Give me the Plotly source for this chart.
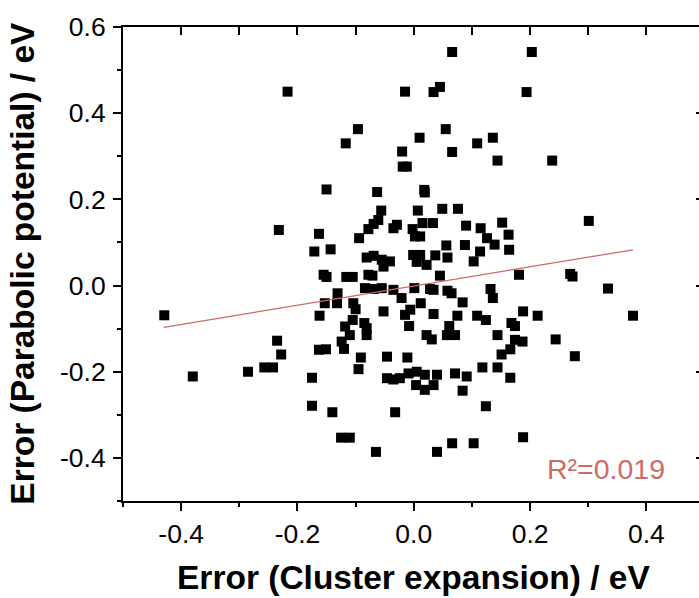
import plotly.graph_objects as go

# Scatter data: (error cluster expansion, error parabolic potential)
err_ce = [
    0.066, 0.203, -0.217, -0.015, 0.034, 0.045, 0.194, -0.096, -0.117, 0.010,
    0.055, 0.109, 0.136, -0.020, 0.066, -0.019, -0.012, 0.144, 0.238, -0.150,
    -0.063, 0.018, 0.019,
    -0.056, 0.007, 0.049, 0.076, -0.232, 0.301, -0.163, -0.094, -0.061, -0.069,
    -0.078, -0.035, -0.029, -0.002, 0.002, 0.011, 0.015, 0.033, 0.090, 0.115,
    0.126, 0.139, 0.152, 0.163,
    -0.171, -0.143, 0.164, 0.056, 0.088, 0.114, 0.103, -0.081, -0.069, -0.055,
    -0.041, -0.052, -0.001, 0.011, 0.005, 0.022, 0.037, 0.058,
    -0.155, -0.150, -0.116, -0.105, -0.078, -0.071, 0.045, 0.181, 0.269, 0.273,
    -0.429, -0.131, -0.153, -0.132, -0.162, -0.104, -0.100, -0.084, -0.069, -0.055,
    -0.035, -0.021, 0.001, 0.012, -0.052, -0.015, -0.006, -0.008, -0.105, -0.118,
    -0.085, -0.081, 0.028, 0.034, 0.058, 0.065, 0.084, 0.132, 0.136, 0.188,
    0.213, 0.334, 0.377, 0.034, 0.075, 0.061, 0.109, 0.124, 0.168, 0.174,
    -0.110, -0.081, -0.124, -0.120, -0.163, -0.151, -0.235, -0.228, -0.091, -0.095,
    -0.046, -0.011, -0.257, -0.242, -0.285, 0.057, 0.071, 0.022, 0.031, 0.144,
    0.174, 0.187, 0.166, 0.151, 0.244, 0.277, 0.118, 0.144,
    -0.380, -0.175, -0.175, -0.140, -0.125, -0.110, -0.065, -0.032, -0.046, -0.035,
    -0.024, -0.009, 0.005, 0.004, 0.019, 0.019, 0.034, 0.040, 0.071, 0.091,
    0.084, 0.166, 0.124, 0.188, 0.040, 0.066, 0.103,
]
err_pp = [
    0.542, 0.542, 0.450, 0.450, 0.449, 0.461, 0.449, 0.363, 0.330, 0.343,
    0.363, 0.330, 0.343, 0.311, 0.310, 0.276, 0.276, 0.290, 0.290, 0.223,
    0.217, 0.222, 0.216,
    0.174, 0.174, 0.178, 0.178, 0.129, 0.150, 0.120, 0.110, 0.152, 0.143,
    0.131, 0.133, 0.141, 0.131, 0.114, 0.114, 0.145, 0.145, 0.139, 0.133,
    0.110, 0.095, 0.146, 0.118,
    0.079, 0.084, 0.083, 0.093, 0.094, 0.079, 0.056, 0.065, 0.069, 0.060,
    0.056, 0.044, 0.071, 0.071, 0.055, 0.048, 0.070, 0.065,
    0.025, 0.020, 0.020, 0.020, 0.025, 0.023, 0.023, 0.025, 0.027, 0.021,
    -0.069, -0.018, -0.041, -0.041, -0.070, -0.041, -0.055, -0.006, -0.008, -0.006,
    -0.010, -0.029, -0.006, -0.041, -0.060, -0.068, -0.056, -0.094, -0.080, -0.095,
    -0.087, -0.099, -0.008, -0.010, -0.012, -0.018, -0.039, -0.008, -0.029, -0.060,
    -0.070, -0.007, -0.070, -0.066, -0.070, -0.094, -0.070, -0.080, -0.087, -0.094,
    -0.115, -0.115, -0.130, -0.147, -0.149, -0.148, -0.128, -0.160, -0.167, -0.194,
    -0.165, -0.167, -0.190, -0.190, -0.200, -0.115, -0.115, -0.115, -0.125, -0.115,
    -0.126, -0.130, -0.148, -0.160, -0.125, -0.164, -0.190, -0.190,
    -0.211, -0.214, -0.279, -0.294, -0.353, -0.353, -0.386, -0.294, -0.215, -0.218,
    -0.215, -0.204, -0.200, -0.231, -0.207, -0.242, -0.231, -0.207, -0.204, -0.211,
    -0.244, -0.214, -0.280, -0.352, -0.386, -0.366, -0.366,
]

# Linear fit line end points
fit_x = [-0.43, 0.377]
fit_y = [-0.097, 0.083]
r2_label = "R²=0.019"

x_major = [-0.4, -0.2, 0.0, 0.2, 0.4]
x_major_text = ["-0.4", "-0.2", "0.0", "0.2", "0.4"]
x_minor = [-0.5, -0.3, -0.1, 0.1, 0.3]
x_top = [-0.4, -0.3, -0.2, -0.1, 0.0, 0.1, 0.2, 0.3, 0.4]
y_major = [-0.4, -0.2, 0.0, 0.2, 0.4, 0.6]
y_major_text = ["-0.4", "-0.2", "0.0", "0.2", "0.4", "0.6"]
y_minor = [-0.5, -0.3, -0.1, 0.1, 0.3, 0.5]

x_title = "Error (Cluster expansion) / eV"
y_title = "Error (Parabolic potential) / eV"

FONT = "Liberation Sans, Arial, sans-serif"
RED = "#d06a68"
XR = [-0.5, 0.4905]
YR = [-0.5, 0.6]

fig = go.Figure()
fig.add_trace(go.Scatter(
    x=err_ce, y=err_pp, mode="markers",
    marker=dict(symbol="square", size=10, color="black", line=dict(width=0)),
    showlegend=False, hoverinfo="skip",
))
fig.add_trace(go.Scatter(
    x=fit_x, y=fit_y, mode="lines",
    line=dict(color=RED, width=1.3),
    showlegend=False, hoverinfo="skip",
))
# invisible trace to make the mirror axes exist
fig.add_trace(go.Scatter(
    x=fit_x, y=fit_y, mode="lines", xaxis="x2", yaxis="y2",
    line=dict(width=0), opacity=0, showlegend=False, hoverinfo="skip",
))

fig.update_layout(
    width=699, height=598,
    margin=dict(l=123, r=0, t=27, b=97),
    paper_bgcolor="white", plot_bgcolor="white",
    font=dict(family=FONT, color="black"),
    xaxis=dict(
        range=XR, showgrid=False, zeroline=False,
        showline=True, linecolor="black", linewidth=2,
        ticks="outside", ticklen=8, tickwidth=1.5, tickcolor="black",
        tickmode="array", tickvals=x_major, ticktext=x_major_text,
        tickfont=dict(family=FONT, size=26.5, color="black"),
        minor=dict(tickmode="array", tickvals=x_minor, ticks="outside",
                   ticklen=4, tickwidth=1.5, tickcolor="black", showgrid=False),
    ),
    yaxis=dict(
        range=YR, showgrid=False, zeroline=False,
        showline=True, linecolor="black", linewidth=2,
        ticks="outside", ticklen=8, tickwidth=1.5, tickcolor="black",
        tickmode="array", tickvals=y_major, ticktext=y_major_text,
        tickfont=dict(family=FONT, size=26.5, color="black"),
        ticklabelstandoff=2,
        minor=dict(tickmode="array", tickvals=y_minor, ticks="outside",
                   ticklen=4, tickwidth=1.5, tickcolor="black", showgrid=False),
    ),
    xaxis2=dict(
        range=XR, overlaying="x", side="top", anchor="y2",
        showgrid=False, zeroline=False, showline=True, linecolor="black", linewidth=2,
        ticks="inside", ticklen=8, tickwidth=1.5, tickcolor="black",
        tickmode="array", tickvals=x_top, showticklabels=False,
    ),
    yaxis2=dict(
        range=YR, overlaying="y", side="right", anchor="x2",
        showgrid=False, zeroline=False, showline=False,
        ticks="inside", ticklen=3, tickwidth=1.5, tickcolor="black",
        tickmode="array", tickvals=y_major, showticklabels=False,
    ),
    annotations=[
        dict(text=x_title, xref="paper", yref="paper", x=0.5047, y=-0.162,
             xanchor="center", yanchor="middle", showarrow=False,
             font=dict(family=FONT, size=33.5, color="black", weight="bold")),
        dict(text=y_title, xref="paper", yref="paper", x=-0.176, y=0.502,
             xanchor="center", yanchor="middle", showarrow=False, textangle=-90,
             font=dict(family=FONT, size=33.5, color="black", weight="bold")),
        dict(text=r2_label, xref="x", yref="y", x=0.4356, y=-0.426,
             xanchor="right", yanchor="middle", showarrow=False,
             font=dict(family=FONT, size=28.5, color=RED)),
    ],
)

fig.write_html("out.html")
